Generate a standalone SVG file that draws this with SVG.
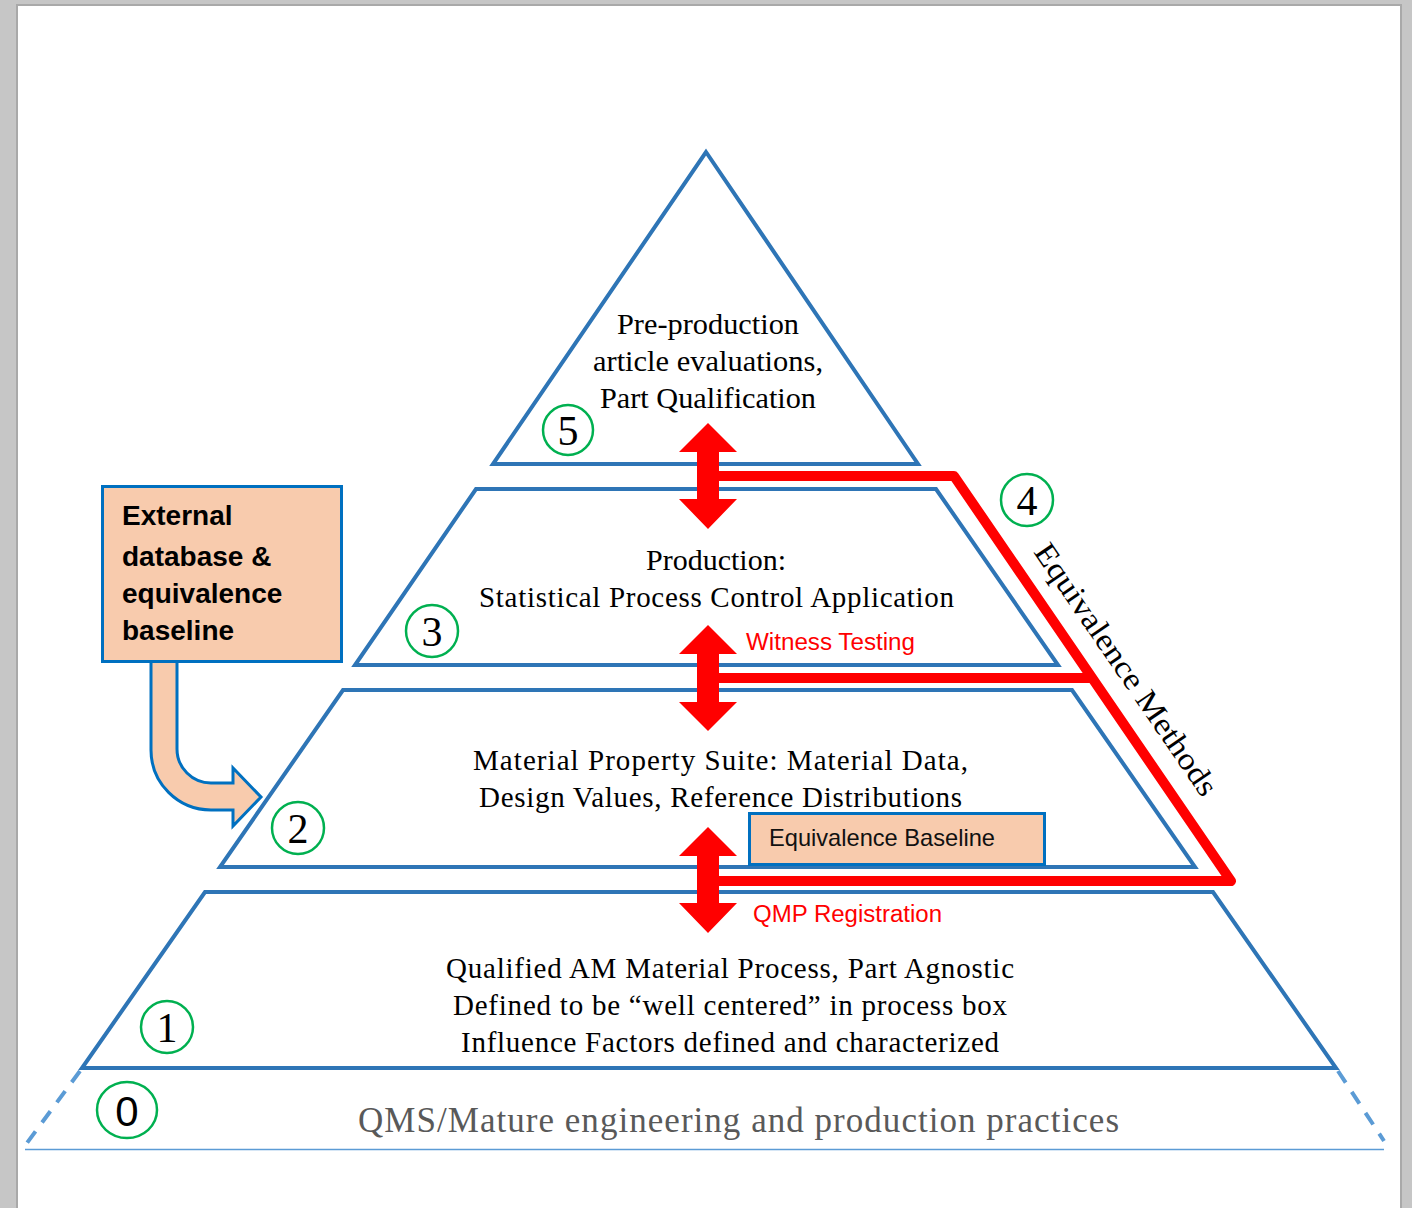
<svg xmlns="http://www.w3.org/2000/svg" width="1412" height="1208" viewBox="0 0 1412 1208">
<defs>
<style>
.tier{fill:none;stroke:#2e75b6;stroke-width:4;stroke-linejoin:miter}
.dash{fill:none;stroke:#5b9bd5;stroke-width:4;stroke-dasharray:14 11}
.serif{font-family:"Liberation Serif","Times New Roman",serif;font-size:29px;fill:#000}
.sans{font-family:"Liberation Sans",Arial,sans-serif}
.red{fill:#ff0000;font-size:23px}
.num{fill:none;stroke:#00b050;stroke-width:2.5}
.numt{font-family:"Liberation Serif","Times New Roman",serif;font-size:42px;fill:#000;text-anchor:middle}
.redline{fill:none;stroke:#ff0000;stroke-width:10;stroke-linejoin:round}
.arrow{fill:#ff0000}
.box{fill:#f8cbad;stroke:#0070c0;stroke-width:3}
</style>
</defs>
<rect x="0" y="0" width="1412" height="1208" fill="#c6c6c6"/>
<rect x="16" y="4" width="1386" height="1210" fill="#a9a9a9"/>
<rect x="18" y="6" width="1382" height="1210" fill="#ffffff"/>

<g id="tier5">
<polygon class="tier" points="706,152 918,464 493,464"/>
<text class="serif" x="617" y="334" textLength="182" lengthAdjust="spacingAndGlyphs">Pre-production</text>
<text class="serif" x="593" y="371" textLength="230" lengthAdjust="spacingAndGlyphs">article evaluations,</text>
<text class="serif" x="600" y="408" textLength="216" lengthAdjust="spacingAndGlyphs">Part Qualification</text>
</g>
<g id="tier3">
<polygon class="tier" points="476,489 936,489 1058,665 355,665"/>
<text class="serif" x="646" y="570" textLength="140" lengthAdjust="spacingAndGlyphs">Production:</text>
<text class="serif" x="479" y="607" textLength="475" lengthAdjust="spacing">Statistical Process Control Application</text>
</g>
<g id="tier2">
<polygon class="tier" points="343,690 1072,690 1195,867 220,867"/>
<text class="serif" x="473" y="770" textLength="495" lengthAdjust="spacing">Material Property Suite:  Material Data,</text>
<text class="serif" x="479" y="807" textLength="483" lengthAdjust="spacing">Design Values, Reference Distributions</text>
</g>
<g id="tier1">
<polygon class="tier" points="205,892 1213,892 1336,1068 82,1068"/>
<text class="serif" x="446" y="978" textLength="568" lengthAdjust="spacing">Qualified AM Material Process, Part Agnostic</text>
<text class="serif" x="453" y="1015" textLength="554" lengthAdjust="spacing">Defined to be “well centered” in process box</text>
<text class="serif" x="461" y="1052" textLength="538" lengthAdjust="spacing">Influence Factors defined and characterized</text>
</g>
<g id="tier0">
<line class="dash" x1="80" y1="1071" x2="27" y2="1143"/>
<line class="dash" x1="1338" y1="1071" x2="1384" y2="1141"/>
<line x1="25" y1="1149.5" x2="1384" y2="1149.5" stroke="#5b9bd5" stroke-width="1.5"/>
<text class="serif" x="358" y="1132" style="font-size:35px;fill:#595959" textLength="761" lengthAdjust="spacing">QMS/Mature engineering and production practices</text>
</g>

<g id="connectors">
<polyline class="redline" points="708,476 954,476 1231,881 708,881"/>
<line class="redline" x1="708" y1="678" x2="1092" y2="678"/>
<polygon class="arrow" points="708,423 737,452 719,452 719,499 737,499 708,529 679,499 697,499 697,452 679,452"/>
<polygon class="arrow" points="708,625 737,654 719,654 719,702 737,702 708,731 679,702 697,702 697,654 679,654"/>
<polygon class="arrow" points="708,827 737,856 719,856 719,903 737,903 708,933 679,903 697,903 697,856 679,856"/>
<path class="box" d="M151,661 L151,750 A60,60 0 0 0 211,810 L233,810 L233,826 L261,797 L233,768 L233,783 L211,783 A34,34 0 0 1 177,749 L177,661 Z"/>
</g>

<g id="labels">
<text class="sans red" x="746" y="650" textLength="169" lengthAdjust="spacingAndGlyphs">Witness Testing</text>
<text class="sans red" x="753" y="922" textLength="189" lengthAdjust="spacingAndGlyphs">QMP Registration</text>
<text class="serif" transform="translate(1033,552) rotate(55.5)" style="font-size:31px" textLength="299" lengthAdjust="spacingAndGlyphs">Equivalence Methods</text>
</g>

<g id="external-box">
<rect class="box" x="102.5" y="486.5" width="239" height="175"/>
<text class="sans" style="font-weight:bold;font-size:28px" fill="#000"><tspan x="122" y="525">External</tspan><tspan x="122" y="566">database &amp;</tspan><tspan x="122" y="603">equivalence</tspan><tspan x="122" y="640">baseline</tspan></text>
</g>

<g id="equivalence-baseline">
<rect class="box" x="749.5" y="813.5" width="295" height="51"/>
<text class="sans" x="769" y="846" style="font-size:24px" fill="#111" textLength="226" lengthAdjust="spacingAndGlyphs">Equivalence Baseline</text>
</g>

<g id="step5"><circle class="num" cx="568" cy="430" r="25"/><text class="numt" x="568" y="445">5</text></g>
<g id="step4"><circle class="num" cx="1027" cy="500" r="26"/><text class="numt" x="1027" y="515">4</text></g>
<g id="step3"><circle class="num" cx="432" cy="631" r="26"/><text class="numt" x="432" y="646">3</text></g>
<g id="step2"><circle class="num" cx="298" cy="828" r="26"/><text class="numt" x="298" y="843">2</text></g>
<g id="step1"><circle class="num" cx="167" cy="1027" r="26"/><text class="numt" x="167" y="1042">1</text></g>
<g id="step0"><ellipse class="num" cx="127" cy="1110" rx="30" ry="28"/><text class="sans" x="127" y="1126" text-anchor="middle" style="font-size:42px" fill="#000">0</text></g>
</svg>
